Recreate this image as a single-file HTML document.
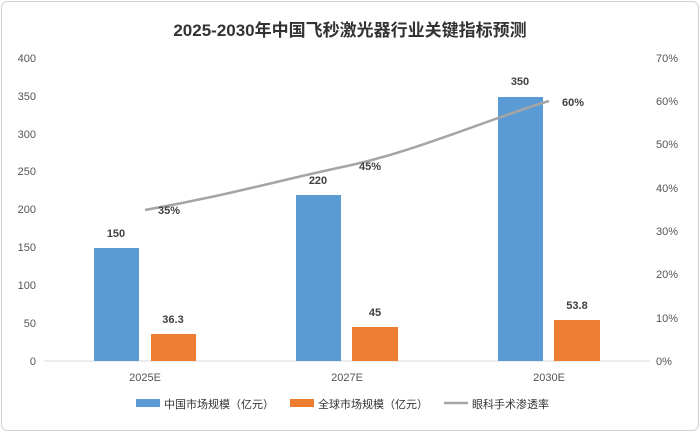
<!DOCTYPE html>
<html><head><meta charset="utf-8"><style>
body{margin:0;background:#fff}
svg{display:block;font-family:"Liberation Sans","Noto Sans CJK SC",sans-serif}
</style></head><body>
<svg width="700" height="432" viewBox="0 0 700 432">
<rect x="1.5" y="1.5" width="697" height="429" rx="6" fill="#fff" stroke="#d0d0d0"/>
<text x="350" y="36" text-anchor="middle" font-size="17" font-weight="bold" fill="#333">2025-2030年中国飞秒激光器行业关键指标预测</text>
<line x1="44" y1="361" x2="650" y2="361" stroke="#d9d9d9"/>
<g font-size="11" fill="#555" text-anchor="end">
<text x="36" y="365">0</text><text x="36" y="327">50</text><text x="36" y="289">100</text><text x="36" y="251">150</text><text x="36" y="213">200</text><text x="36" y="175">250</text><text x="36" y="138">300</text><text x="36" y="100">350</text><text x="36" y="62">400</text>
</g>
<g font-size="11" fill="#555" text-anchor="start">
<text x="656" y="365">0%</text><text x="656" y="322">10%</text><text x="656" y="278">20%</text><text x="656" y="235">30%</text><text x="656" y="192">40%</text><text x="656" y="148">50%</text><text x="656" y="105">60%</text><text x="656" y="62">70%</text>
</g>
<g fill="#5b9bd5">
<rect x="94" y="248" width="45" height="113"/><rect x="296" y="195" width="45" height="166"/><rect x="498" y="97" width="45" height="264"/>
</g>
<g fill="#ed7d31">
<rect x="151" y="334" width="45" height="27"/><rect x="352" y="327" width="46" height="34"/><rect x="554" y="320" width="46" height="41"/>
</g>
<path d="M145,210 C230,195 280,180 347,166 S500,115 549,101" fill="none" stroke="#a5a5a5" stroke-width="2.5"/>
<g font-size="11" font-weight="bold" fill="#404040" text-anchor="middle">
<text x="116" y="237">150</text><text x="318" y="184">220</text><text x="520" y="85">350</text>
<text x="173" y="323">36.3</text><text x="375" y="316">45</text><text x="577" y="309">53.8</text>
<text x="169" y="214">35%</text><text x="370" y="170">45%</text><text x="573" y="106">60%</text>
</g>
<g font-size="11" fill="#555" text-anchor="middle">
<text x="145" y="381">2025E</text><text x="347" y="381">2027E</text><text x="549" y="381">2030E</text>
</g>
<g font-size="11" fill="#333">
<rect x="136" y="399" width="24" height="8" fill="#5b9bd5"/><text x="164" y="408">中国市场规模（亿元）</text>
<rect x="290" y="399" width="24" height="8" fill="#ed7d31"/><text x="318" y="408">全球市场规模（亿元）</text>
<line x1="444" y1="403" x2="468" y2="403" stroke="#a5a5a5" stroke-width="2.5"/><text x="472" y="408">眼科手术渗透率</text>
</g>
</svg>
</body></html>
